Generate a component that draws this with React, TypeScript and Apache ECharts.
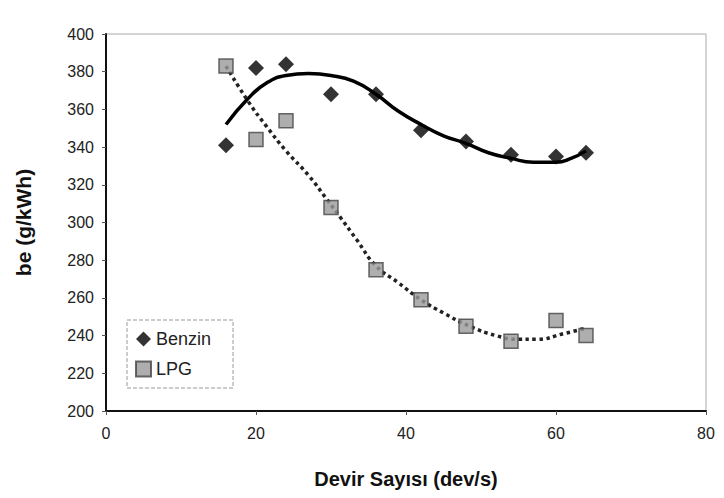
import React, { useEffect, useRef } from "react";
import * as echarts from "echarts";

const xTicks = [0, 20, 40, 60, 80];
const benzinX = [16, 20, 24, 30, 36, 42, 48, 54, 60, 64];
const benzinY = [341, 382, 384, 368, 368, 349, 343, 336, 335, 337];
const lpgX = [16, 20, 24, 30, 36, 42, 48, 54, 60, 64];
const lpgY = [383, 344, 354, 308, 275, 259, 245, 237, 248, 240];

const benzinTrendX = [16, 19, 21.4, 24, 27, 30, 33, 36, 39, 42, 45, 48, 51, 54, 57, 60, 62, 64];
const benzinTrendY = [352, 366, 374, 378, 379, 378, 375, 368, 359, 352, 346, 342, 337, 334, 332, 332, 334, 338];
const lpgTrendX = [16, 19, 21.4, 24, 27, 29.5, 31.2, 33.4, 36, 39, 42, 45, 48.5, 52, 55, 57.4, 61, 64];
const lpgTrendY = [383, 364, 351, 338, 325, 312, 303, 291, 277, 268, 259, 252, 245, 240, 238, 238, 241, 244];

const zip = (xs: number[], ys: number[]) => xs.map((x, i) => [x, ys[i]]);

export default function App() {
  const ref = useRef<HTMLDivElement>(null);
  useEffect(() => {
    if (!ref.current) return;
    const chart = echarts.init(ref.current, undefined, { renderer: "svg" });
    const font = "Liberation Sans";
    chart.setOption({
      animation: false,
      backgroundColor: "#ffffff",
      textStyle: { fontFamily: font },
      grid: { left: 106, right: 18, top: 34, bottom: 87, show: true, borderColor: "#aaa", borderWidth: 1 },
      legend: {
        data: ["Benzin", "LPG"],
        orient: "vertical",
        left: 127,
        top: 320,
        itemWidth: 15,
        itemHeight: 15,
        itemGap: 12,
        padding: [10, 22, 10, 8],
        borderColor: "#999",
        borderWidth: 1,
        borderType: "dashed",
        textStyle: { fontFamily: font, fontSize: 18, color: "#222" },
      },
      xAxis: {
        type: "value",
        min: xTicks[0],
        max: xTicks[xTicks.length - 1],
        interval: 20,
        name: "Devir Sayısı (dev/s)",
        nameLocation: "middle",
        nameGap: 58,
        nameTextStyle: { fontFamily: font, fontSize: 20, fontWeight: "bold", color: "#111" },
        axisLine: { onZero: false, lineStyle: { color: "#111", width: 2 } },
        axisTick: { show: true, length: 4, lineStyle: { color: "#555" } },
        axisLabel: { fontSize: 16, color: "#222", margin: 14 },
        splitLine: { show: false },
      },
      yAxis: {
        type: "value",
        min: 200,
        max: 400,
        interval: 20,
        name: "be (g/kWh)",
        nameLocation: "middle",
        nameGap: 72,
        nameTextStyle: { fontFamily: font, fontSize: 21, fontWeight: "bold", color: "#111" },
        axisLine: { onZero: false, lineStyle: { color: "#111", width: 2 } },
        axisTick: { show: true, length: 4, lineStyle: { color: "#555" } },
        axisLabel: { fontSize: 16, color: "#222", margin: 12 },
        splitLine: { show: false },
      },
      series: [
        {
          name: "BenzinTrend",
          type: "line",
          data: zip(benzinTrendX, benzinTrendY),
          smooth: true,
          showSymbol: false,
          symbol: "none",
          lineStyle: { color: "#000", width: 3.5 },
          z: 2,
        },
        {
          name: "LPGTrend",
          type: "line",
          data: zip(lpgTrendX, lpgTrendY),
          smooth: true,
          showSymbol: false,
          symbol: "none",
          lineStyle: { color: "#222", width: 3.5, type: [3.5, 3.5] },
          z: 2,
        },
        {
          name: "Benzin",
          type: "scatter",
          data: zip(benzinX, benzinY),
          symbol: "diamond",
          symbolSize: 16,
          itemStyle: { color: "#000" },
          z: 3,
        },
        {
          name: "LPG",
          type: "scatter",
          data: zip(lpgX, lpgY),
          symbol: "rect",
          symbolSize: 14,
          itemStyle: { color: "#9a9a9a", borderColor: "#444", borderWidth: 1.5 },
          z: 3,
        },
      ],
    });
    return () => chart.dispose();
  }, []);
  return (
    <div
      ref={ref}
      style={{ position: "absolute", left: 0, top: 0, width: 724, height: 498 }}
    />
  );
}
